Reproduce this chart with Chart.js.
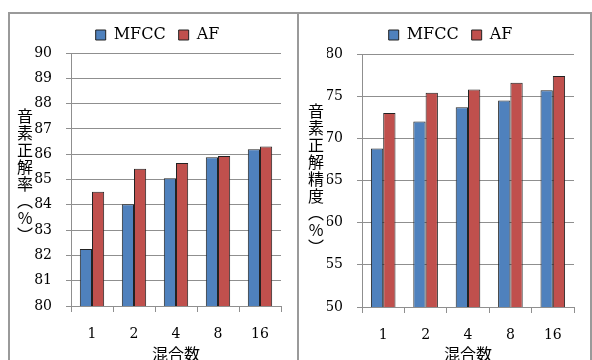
<!DOCTYPE html>
<html>
<head>
  <meta charset="utf-8">
  <title>混合数と音素正解率</title>
  <script src="https://cdn.jsdelivr.net/npm/chart.js"></script>
  <style>
    body { margin: 0; width: 592px; height: 360px; overflow: hidden; background: white; position: relative; }
    .frame { position: absolute; top: 12px; height: 360px; box-sizing: border-box; border: 2px solid #9a9a9a; }
    canvas { position: absolute; top: 14px; }
    .ytitle { position: absolute; writing-mode: vertical-rl; text-orientation: upright;
              font: 16px "Noto Sans CJK JP"; letter-spacing: 1px; color: #000; }
  </style>
</head>
<body>
  <div class="frame" style="left:8px; width:291px;"></div>
  <div class="frame" style="left:297px; width:295px;"></div>
  <canvas id="left" width="287" height="350" style="left:10px;"></canvas>
  <canvas id="right" width="291" height="350" style="left:300px;"></canvas>
  <div class="ytitle" style="left:13px; top:108px;">音素正解率（%）</div>
  <div class="ytitle" style="left:304px; top:103px;">音素正解精度（%）</div>
  <script>
    // mixture counts on the x axis
    const mixtures = ["1", "2", "4", "8", "16"];
    const seriesNames = ["MFCC", "AF"];

    // left panel: 音素正解率
    const mfccRate = [82.25, 84.02, 85.05, 85.88, 86.2];
    const afRate = [84.52, 85.42, 85.65, 85.93, 86.3];
    const rateAxis = [80, 90, 1];

    // right panel: 音素正解精度
    const mfccAcc = [68.8, 72.0, 73.7, 74.5, 75.7];
    const afAcc = [73.0, 75.4, 75.8, 76.6, 77.4];
    const accAxis = [50, 80, 5];

    Chart.defaults.font.family = "DejaVu Serif";
    Chart.defaults.color = "#000";

    const gridColor = "#8f8f8f";

    function panel(id, mfcc, af, axis, g) {
      // force the legend height so the plot starts where the reference does
      const fixLegend = {
        id: "fixLegend",
        beforeInit(chart) {
          const lg = chart.legend;
          const fit = lg.fit.bind(lg);
          lg.fit = function () { fit(); this.height = g.legendH; };
        }
      };
      new Chart(document.getElementById(id), {
        type: "bar",
        data: {
          labels: mixtures,
          datasets: [
            { label: seriesNames[0], data: mfcc, backgroundColor: "#4f81bd", borderColor: "#222", borderWidth: 1 },
            { label: seriesNames[1], data: af, backgroundColor: "#c0504d", borderColor: "#222", borderWidth: 1 }
          ]
        },
        options: {
          responsive: false,
          animation: false,
          categoryPercentage: 0.58,
          barPercentage: 1,
          layout: { padding: { left: g.padL, right: g.padR, top: 0, bottom: 0 } },
          plugins: {
            legend: {
              position: "top",
              labels: { boxWidth: 10, boxHeight: 10, padding: 13, font: { size: 16 } }
            },
            tooltip: { enabled: false }
          },
          scales: {
            x: {
              afterFit: s => { s.height = g.xH; },
              border: { color: gridColor },
              grid: { offset: true, drawOnChartArea: false, drawTicks: true, tickLength: 6, color: gridColor },
              ticks: { padding: 14, font: { size: 14 } },
              title: { display: true, text: "混合数", padding: { top: 0, bottom: 0 },
                       font: { family: "Noto Sans CJK JP", size: 16 } }
            },
            y: {
              min: axis[0], max: axis[1],
              afterFit: s => { s.width = g.yW; },
              border: { color: gridColor },
              grid: { color: gridColor, tickLength: 5 },
              ticks: { stepSize: axis[2], padding: 14, font: { size: 14 } }
            }
          }
        },
        plugins: [fixLegend]
      });
    }

    panel("left", mfccRate, afRate, rateAxis, { padL: 24, padR: 16, yW: 37, legendH: 39, xH: 58 });
    panel("right", mfccAcc, afAcc, accAxis, { padL: 27, padR: 17, yW: 35, legendH: 40, xH: 57 });
  </script>
</body>
</html>
